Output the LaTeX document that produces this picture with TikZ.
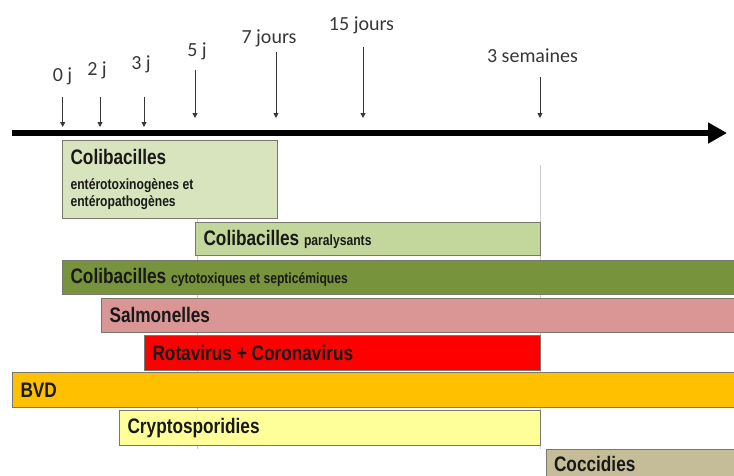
\documentclass[tikz,border=0pt]{standalone}
\usepackage{fontspec}
\usepackage{xcolor}
\usepackage{tikz}
\usetikzlibrary{arrows.meta}
\setmainfont{Liberation Sans}
\newfontfamily\barfont[FakeStretch=0.82,BoldFeatures={FakeStretch=0.82}]{Liberation Sans}
\newfontfamily\tickfont{Carlito}
\newcommand\smallbar{\fontsize{14.8}{17}\selectfont\spaceskip=0.23em\relax}
\definecolor{palegreen}{RGB}{215, 228, 189}
\definecolor{lightgreen}{RGB}{195, 214, 155}
\definecolor{olivegreen}{RGB}{119, 147, 60}
\definecolor{dustypink}{RGB}{217, 150, 148}
\definecolor{brightred}{RGB}{255, 0, 0}
\definecolor{amber}{RGB}{255, 192, 0}
\definecolor{paleyellow}{RGB}{255, 255, 153}
\definecolor{khaki}{RGB}{196, 189, 151}
\definecolor{tickgray}{RGB}{55, 55, 55}
\definecolor{gridgray}{RGB}{205, 205, 205}
\definecolor{bordergray}{RGB}{120, 120, 110}

\begin{document}
\begin{tikzpicture}[
    x=1pt, y=-1pt,
    bar/.style={draw=bordergray, line width=1.1pt, anchor=north west, align=left,
        inner xsep=8pt, inner ysep=0pt, font=\barfont\bfseries\fontsize{21}{25}\selectfont, text=black!90,
        execute at begin node={\spaceskip=0.23em\relax}},
    tick/.style={anchor=base, font=\tickfont\fontsize{20}{24}\selectfont, text=tickgray, inner sep=0pt},
    tickarrow/.style={-{Triangle[length=5pt, width=5pt]}, line width=0.9pt, color=tickgray},
    axis/.style={-{Triangle[length=19pt, width=20pt]}, line width=6pt, color=black},
    grid/.style={line width=1pt, color=gridgray}
]
\clip (0,0) rectangle (734,475);

% Grid lines
\coordinate (gAtop) at (197,165);
\coordinate (gAbot) at (197,449);
\coordinate (gBtop) at (540,165);
\coordinate (gBbot) at (540,449);
\draw[grid] (gAtop) -- (gAbot);
\draw[grid] (gBtop) -- (gBbot);

% Time axis
\coordinate (axstart) at (12,133);
\coordinate (axend) at (727,133);
\draw[axis] (axstart) -- (axend);

% Time marks
\foreach \nm/\x/\top/\bot/\lx/\ly/\txt in {
    d0/62.7/97/127/62.5/81/0 j,
    d2/100/97/127/97/75/2 j,
    d3/144/97/127/141/69/3 j,
    d5/195/70/118/197/56/5 j,
    d7/276/52/118/269/43/7 jours,
    d15/363/47/118/361.5/30/15 jours,
    w3/540/77/118/532.5/62/3 semaines} {
    \node[tick] (l\nm) at (\lx,\ly) {\txt};
    \coordinate (s\nm) at (\x,\top);
    \coordinate (e\nm) at (\x,\bot);
    \draw[tickarrow] (s\nm) -- (e\nm);
}

% Pathogens
\node[bar, fill=palegreen, text width=199pt, minimum height=78pt,
    font=\barfont\bfseries\fontsize{21}{17}\selectfont] (colient) at (62,140)
    {Colibacilles\\[8pt]\smallbar ent\'erotoxinog\`enes et\\ent\'eropathog\`enes};
\node[bar, fill=lightgreen, text width=329pt, minimum height=33pt] (colipar) at (195,222)
    {Colibacilles {\smallbar paralysants}};
\node[bar, fill=olivegreen, text width=680pt, minimum height=34pt] (colicyto) at (62,259.5)
    {Colibacilles {\smallbar cytotoxiques et septic\'emiques}};
\node[bar, fill=dustypink, text width=640pt, minimum height=34pt] (salmo) at (101,297.5) {Salmonelles};
\node[bar, fill=brightred, text width=380pt, minimum height=35pt] (rota) at (144,334.5) {Rotavirus + Coronavirus};
\node[bar, fill=amber, text width=730pt, minimum height=35pt] (bvd) at (12,372) {BVD};
\node[bar, fill=paleyellow, text width=405pt, minimum height=35pt] (crypto) at (119,410) {Cryptosporidies};
\node[bar, fill=khaki, text width=200pt, minimum height=28pt] (cocci) at (545.5,449) {Coccidies};

\end{tikzpicture}
\end{document}
